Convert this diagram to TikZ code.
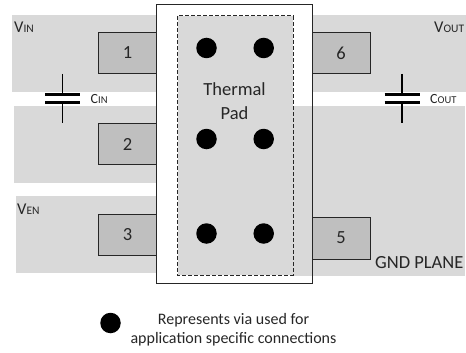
\documentclass[tikz,border=0pt]{standalone}
\usepackage{fontspec}
\setmainfont{Carlito}
\newcommand{\fs}[1]{\fontsize{#1}{#1}\selectfont}
\definecolor{plane}{HTML}{D9D9D9}
\definecolor{pinfill}{HTML}{BFBFBF}
\definecolor{ink}{HTML}{262626}
\tikzset{
  pinbox/.style={fill=pinfill,draw=ink,line width=0.9pt},
  pinlabel/.style={text=ink,inner sep=0pt,font=\fs{18.5}},
  via/.style={circle,fill=black,draw=none,minimum size=20.5pt,inner sep=0pt},
  plate/.style={line width=3.2pt,draw=black},
  lead/.style={line width=1.5pt,draw=black},
  caplabel/.style={text=ink,inner sep=0pt,anchor=base west},
  note/.style={text=ink,inner sep=0pt,font=\fs{16}}
}
\newcommand{\sig}[2]{{\fs{16.5}#1}{\fs{11.5}#2}}
\newcommand{\csig}[2]{{\fs{14}#1}{\fs{10.5}#2}}
\begin{document}
\begin{tikzpicture}[x=1pt,y=-1pt]
\useasboundingbox (0,0) rectangle (466,353);
% copper planes
\fill[plane] (12,15) rectangle (157,92);
\fill[plane] (14,106) rectangle (157,183);
\fill[plane] (16,196) rectangle (157,273);
\fill[plane] (312,15) rectangle (466,92);
\fill[plane] (312,106) rectangle (465,276);
% package
\fill[white] (156.5,4.5) rectangle (312,283);
\fill[plane] (293,106) rectangle (312,276);
\draw[fill=plane,draw=ink,line width=0.8pt,dash pattern=on 4pt off 2pt] (177.5,15.8) rectangle (293,275);
% pins
\draw[pinbox] (98.5,32.5) rectangle (156.5,73.5);
\draw[pinbox] (98.5,123.5) rectangle (156.5,164.5);
\draw[pinbox] (98.5,214) rectangle (156.5,255.3);
\draw[pinbox] (312,32.5) rectangle (370,73.5);
\draw[pinbox] (312,217.5) rectangle (370,259);
\draw[draw=ink,line width=0.9pt] (156.5,4.5) rectangle (312,283);
\node[pinlabel] (p1) at (127.5,53) {1};
\node[pinlabel] (p2) at (127.5,144) {2};
\node[pinlabel] (p3) at (127.5,235) {3};
\node[pinlabel] (p6) at (341,53) {6};
\node[pinlabel] (p5) at (341,238) {5};
% vias
\foreach \n/\x/\y in {a/206.5/48,b/263.7/48,c/206.5/139,d/263.7/139,e/206.5/233.5,f/263.7/233.5,g/110.5/323}
  \node[via] (v\n) at (\x,\y) {};
% pad label
\node[text=ink,inner sep=0pt,font=\fs{18.5},align=center] (pad) at (234.5,101) {Thermal\\[5pt]Pad};
% capacitors
\draw[lead] (62.3,74) -- (62.3,94);
\draw[lead] (62.3,102) -- (62.3,123.3);
\draw[plate] (45,94.3) -- (80,94.3);
\draw[plate] (45,102.3) -- (80,102.3);
\draw[lead] (402,74) -- (402,94);
\draw[lead] (402,102) -- (402,123.3);
\draw[plate] (384.7,94.3) -- (419.7,94.3);
\draw[plate] (384.7,102.3) -- (419.7,102.3);
% labels
\node[caplabel] (vin) at (14,33) {\sig{V}{IN}};
\node[caplabel] (vout) at (434,32.5) {\sig{V}{OUT}};
\node[caplabel] (ven) at (17,214.5) {\sig{V}{EN}};
\node[caplabel] (cin) at (90.5,103.5) {\csig{C}{IN}};
\node[caplabel] (cout) at (430,103.5) {\csig{C}{OUT}};
\node[caplabel,font=\fs{18.5}] (gnd) at (375,268.5) {GND PLANE};
\node[note,align=center] (legend) at (233.5,330) {Represents via used for\\[3pt]application specific connections};
\end{tikzpicture}
\end{document}
